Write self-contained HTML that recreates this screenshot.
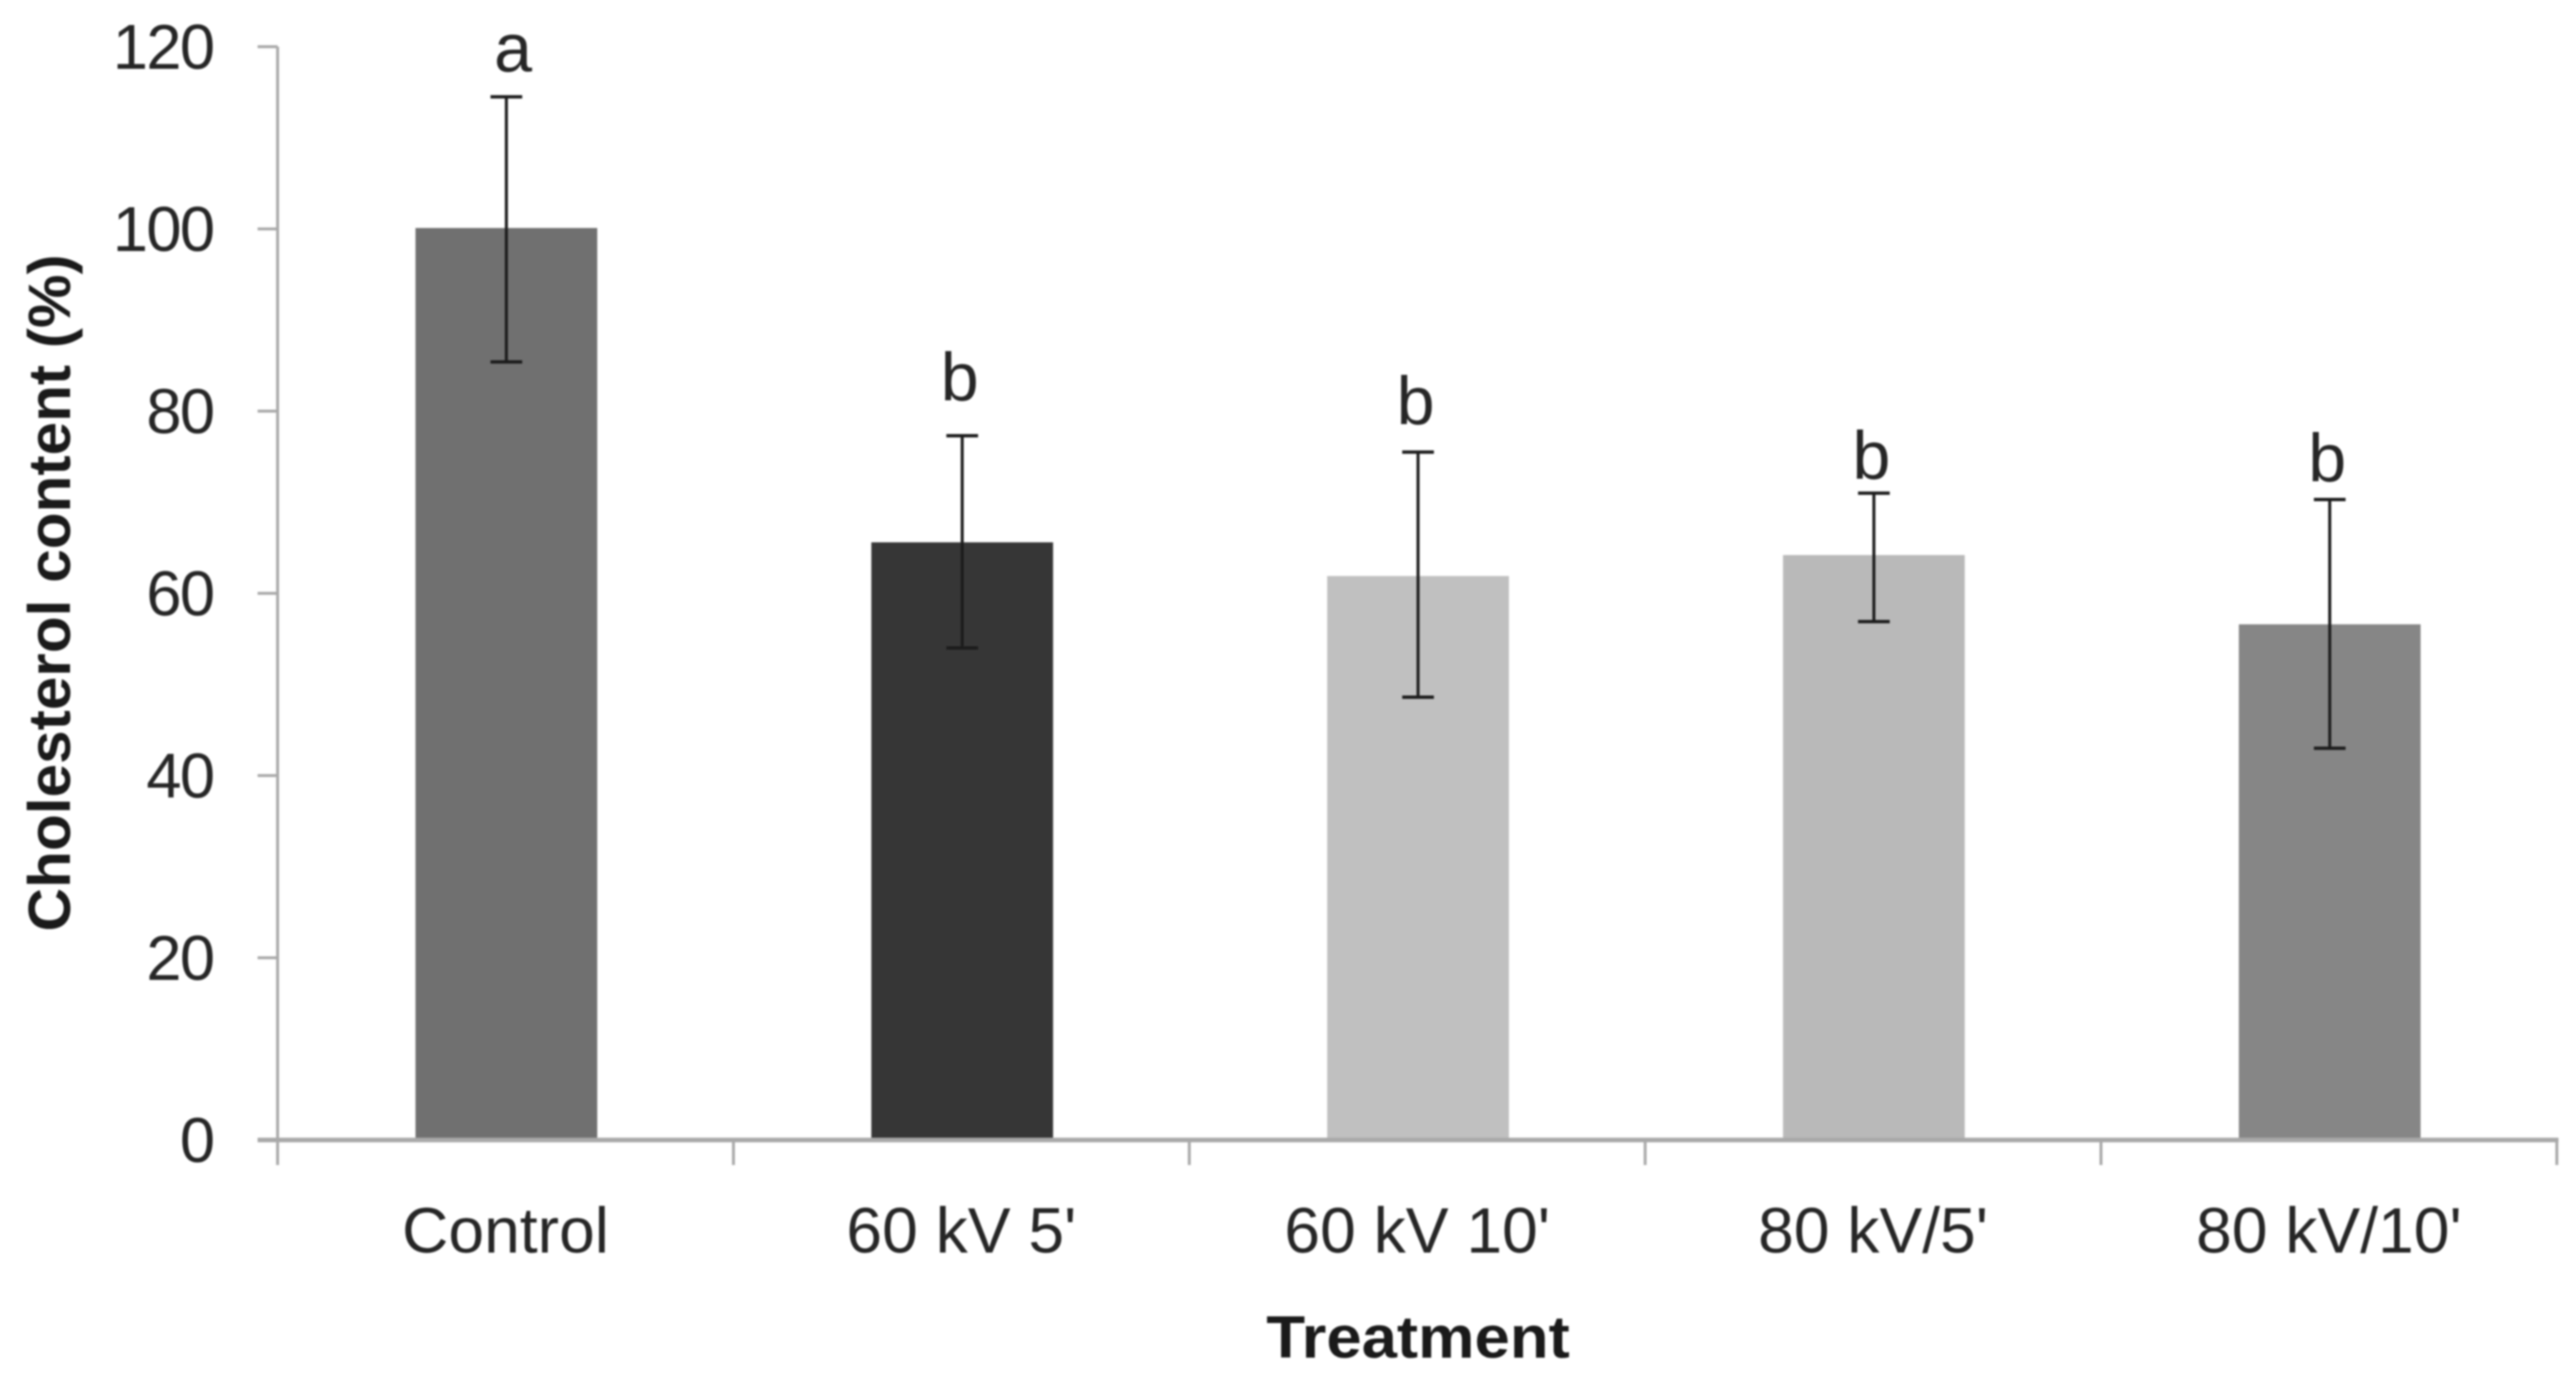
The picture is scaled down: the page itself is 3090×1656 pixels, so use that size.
<!DOCTYPE html>
<html lang="en">
<head>
<meta charset="utf-8">
<title>Cholesterol content by treatment</title>
<style>
html,body{margin:0;padding:0;background:#fff;width:3090px;height:1656px;overflow:hidden}
svg{display:block;filter:blur(1.1px)}
text{font-family:"Liberation Sans",sans-serif;fill:#262626}
</style>
</head>
<body>
<svg id="chart" xmlns="http://www.w3.org/2000/svg" width="3090" height="1656" viewBox="0 0 3090 1656">
<rect width="3090" height="1656" fill="#ffffff"/>
<text transform="translate(84,711) rotate(-90)" text-anchor="middle" font-size="71" font-weight="bold" textLength="812" lengthAdjust="spacingAndGlyphs" style="fill:#1a1a1a">Cholesterol content (%)</text>
<text x="1701" y="1628" text-anchor="middle" font-size="71" font-weight="bold" textLength="364" lengthAdjust="spacingAndGlyphs" style="fill:#1a1a1a">Treatment</text>
</svg>
<script>
const categories = ["Control", "60 kV 5'", "60 kV 10'", "80 kV/5'", "80 kV/10'"];
const meanValues = [100.1, 65.6, 61.9, 64.2, 56.6];
const errorUpper = [114.5, 77.3, 75.5, 71.0, 70.3];
const errorLower = [85.4, 54.0, 48.6, 56.9, 43.0];
const barColors = ["#707070", "#363636", "#c0c0c0", "#b9b9b9", "#868686"];
const significance = ["a", "b", "b", "b", "b"];
const significanceHeights = [117.3, 81.2, 78.6, 72.6, 72.3];
const yTicks = [0, 20, 40, 60, 80, 100, 120];

const svg = document.getElementById('chart');
const NS = 'http://www.w3.org/2000/svg';
const plot = { left: 333, right: 3067, bottom: 1367, top: 56 };
const yMax = 120;
const AXIS = '#a9a9a9';

function yScale(v) {
  return plot.bottom - (v / yMax) * (plot.bottom - plot.top);
}
function xBand(i) {
  return plot.left + i * (plot.right - plot.left) / categories.length;
}
function xCenter(i) {
  return xBand(i + 0.5);
}
function make(tag, props) {
  const el = document.createElementNS(NS, tag);
  for (const k in props) el.setAttribute(k, props[k]);
  return el;
}

categories.forEach(function (c, i) {
  const bar = make('rect', {
    x: xCenter(i) - 108,
    y: yScale(meanValues[i]),
    width: 218,
    height: yScale(0) - yScale(meanValues[i]),
    fill: barColors[i]
  });
  
  
  svg.appendChild(bar);
});

const yAxis = make('line', { x1: plot.left, x2: plot.left, y1: plot.top, y2: plot.bottom + 30, stroke: AXIS, 'stroke-width': 3.5 });


svg.appendChild(yAxis);

const xAxis = make('line', { x1: plot.left - 24, x2: plot.right + 2, y1: plot.bottom, y2: plot.bottom, stroke: AXIS, 'stroke-width': 5.5 });


svg.appendChild(xAxis);

yTicks.forEach(function (t) {
  const tick = make('line', { x1: plot.left - 24, x2: plot.left, y1: yScale(t), y2: yScale(t), stroke: AXIS, 'stroke-width': 3.5 });
  
  
  svg.appendChild(tick);

  const label = make('text', { x: 256, y: yScale(t) + 26.5, 'text-anchor': 'end', 'font-size': 76, 'letter-spacing': -2 });
  label.textContent = t;
  
  
  svg.appendChild(label);
});

for (let i = 1; i <= categories.length; i++) {
  const tick = make('line', { x1: xBand(i), x2: xBand(i), y1: plot.bottom, y2: plot.bottom + 30, stroke: AXIS, 'stroke-width': 3.5 });
  
  
  svg.appendChild(tick);
}

categories.forEach(function (c, i) {
  const cx = xCenter(i) + 1;
  const stem = make('line', { x1: cx, x2: cx, y1: yScale(errorUpper[i]), y2: yScale(errorLower[i]), stroke: '#1c1c1c', 'stroke-width': 3.6 });
  
  
  svg.appendChild(stem);

  const capTop = make('line', { x1: cx - 19, x2: cx + 19, y1: yScale(errorUpper[i]), y2: yScale(errorUpper[i]), stroke: '#1c1c1c', 'stroke-width': 4 });
  
  
  svg.appendChild(capTop);

  const capBottom = make('line', { x1: cx - 19, x2: cx + 19, y1: yScale(errorLower[i]), y2: yScale(errorLower[i]), stroke: '#1c1c1c', 'stroke-width': 4 });
  
  
  svg.appendChild(capBottom);

  const letterX = significance[i] === 'a' ? cx + 8 : cx - 3;
  const letter = make('text', { x: letterX, y: yScale(significanceHeights[i]), 'text-anchor': 'middle', 'font-size': 82 });
  letter.textContent = significance[i];
  
  
  svg.appendChild(letter);

  const catLabel = make('text', { x: cx - 1, y: 1502, 'text-anchor': 'middle', 'font-size': 77 });
  catLabel.textContent = c;
  
  
  svg.appendChild(catLabel);
});
</script>
</body>
</html>
